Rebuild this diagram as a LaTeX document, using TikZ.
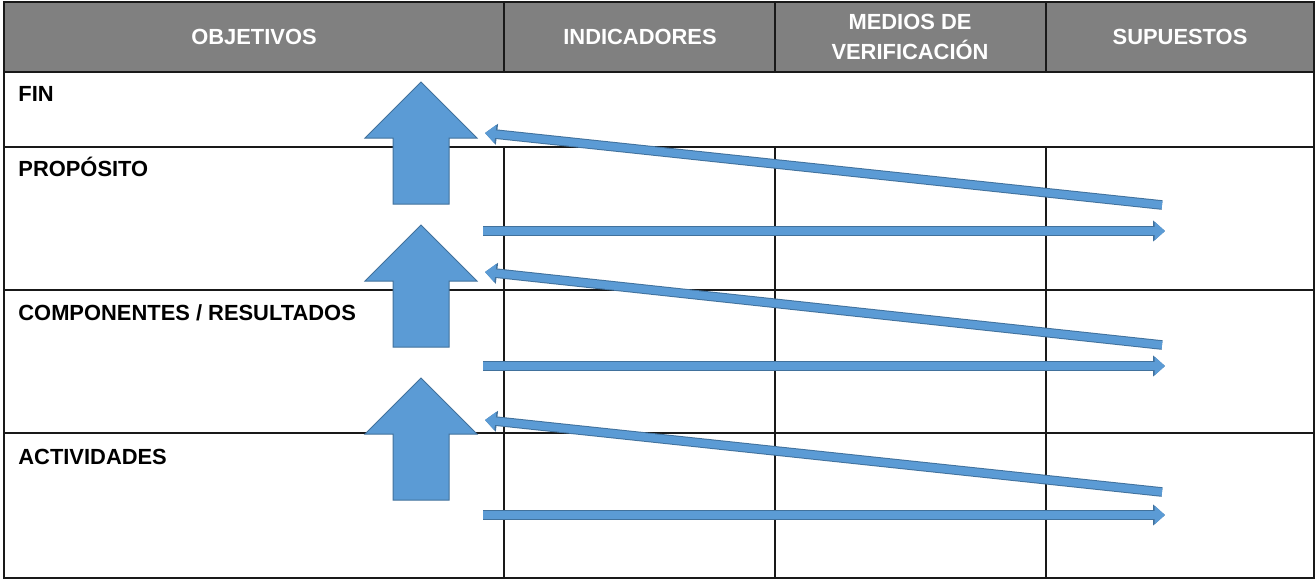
\documentclass[tikz,border=0pt]{standalone}
\usepackage{fontspec}
\setmainfont{Liberation Sans}
\usepackage{tikz}
\usetikzlibrary{arrows.meta}
\definecolor{ggrey}{rgb}{0.5,0.5,0.5}
\definecolor{bbfill}{rgb}{0.357,0.608,0.835}
\definecolor{bbedge}{rgb}{0.255,0.443,0.612}
\definecolor{llgrid}{rgb}{0.1,0.1,0.1}
\begin{document}
\begin{tikzpicture}[line cap=butt,line join=miter,x=0.5pt,y=-0.5pt,
  grid/.style={draw=llgrid,line width=0.75pt},
  head/.style={text=white,font=\fontsize{10.95pt}{15pt}\selectfont\bfseries,align=center,inner sep=0pt},
  rowlab/.style={anchor=base west,font=\fontsize{10.95pt}{15pt}\selectfont\bfseries,inner sep=0pt},
  bigup/.style={fill=bbfill,draw=bbedge,line width=0.5pt},
  flow/.style={draw=bbfill,line width=3.8pt,-{Triangle[length=5.2pt,width=9pt]},
    preaction={draw=bbedge,line width=4.8pt,-{Triangle[length=6pt,width=10.2pt]}}}]
\useasboundingbox (0,0) rectangle (1316,580);
% table
\fill[color=ggrey] (4,2) rectangle (1314,72);
\draw[grid] (4,2) rectangle (1314,578);
\draw[grid] (4,72)-- (1314,72);
\draw[grid] (4,147)-- (1314,147);
\draw[grid] (4,290)-- (1314,290);
\draw[grid] (4,433)-- (1314,433);
\draw[grid] (504,2)-- (504,72);
\draw[grid] (775,2)-- (775,72);
\draw[grid] (1046,2)-- (1046,72);
\draw[grid] (504,147)-- (504,578);
\draw[grid] (775,147)-- (775,578);
\draw[grid] (1046,147)-- (1046,578);
% headers
\node[head] (hobj) at (254,37) {OBJETIVOS};
\node[head] (hind) at (640,37) {INDICADORES};
\node[head] (hmed) at (910,37) {MEDIOS DE\\VERIFICACIÓN};
\node[head] (hsup) at (1180,37) {SUPUESTOS};
% rows
\node[rowlab] (fin) at (18,101) {FIN};
\node[rowlab] (prop) at (18,176) {PROPÓSITO};
\node[rowlab] (comp) at (18,320) {COMPONENTES / RESULTADOS};
\node[rowlab] (act) at (18,464) {ACTIVIDADES};
% big arrows
\draw[bigup] (421,82)-- (477,138)-- (449,138)-- (449,204)-- (393,204)-- (393,138)-- (365,138)-- cycle;
\draw[bigup] (421,225)-- (477,281)-- (449,281)-- (449,347)-- (393,347)-- (393,281)-- (365,281)-- cycle;
\draw[bigup] (421,378)-- (477,434)-- (449,434)-- (449,500)-- (393,500)-- (393,434)-- (365,434)-- cycle;
% flow arrows
\coordinate (d1s) at (1162,205);
\coordinate (d1e) at (485,133);
\coordinate (h1s) at (483,231);
\coordinate (h1e) at (1165,231);
\coordinate (d2s) at (1162,345);
\coordinate (d2e) at (485,272);
\coordinate (h2s) at (483,366);
\coordinate (h2e) at (1165,366);
\coordinate (d3s) at (1162,492);
\coordinate (d3e) at (485,420);
\coordinate (h3s) at (483,515);
\coordinate (h3e) at (1165,515);
\draw[flow] (d1s)-- (d1e);
\draw[flow] (h1s)-- (h1e);
\draw[flow] (d2s)-- (d2e);
\draw[flow] (h2s)-- (h2e);
\draw[flow] (d3s)-- (d3e);
\draw[flow] (h3s)-- (h3e);
\end{tikzpicture}
\end{document}
